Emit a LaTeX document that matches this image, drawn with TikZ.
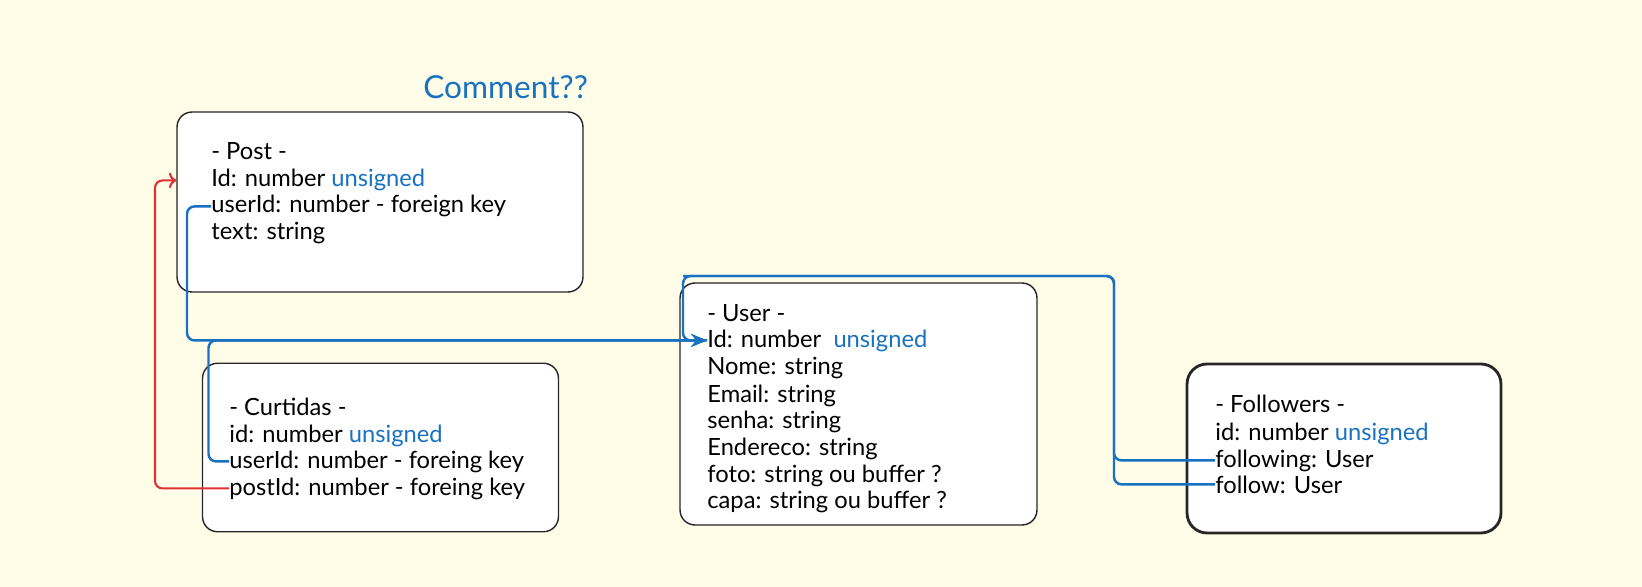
\documentclass[tikz,border=0pt]{standalone}
\usepackage{fontspec}
\setmainfont{Lato}
\usepackage{tikz}
\usetikzlibrary{arrows.meta}

\definecolor{paper}{RGB}{255,253,232}
\definecolor{keyblue}{RGB}{25,113,194}
\definecolor{keyred}{RGB}{224,49,49}

\begin{document}
\begin{tikzpicture}[x=0.02cm,y=-0.02cm,
  tbl/.style={draw=black!85,fill=white,line width=0.8pt,rounded corners=0.3cm},
  row/.style={anchor=base west,inner sep=0pt,font=\fontsize{13.5}{15}\selectfont},
  link/.style={draw=keyblue,line width=1.4pt,rounded corners=0.15cm,-{Stealth[length=3.2mm,width=2.6mm]}},
  plain link/.style={draw=keyblue,line width=1.4pt,rounded corners=0.15cm}]

% Background, also fixes the page size.
\fill[paper] (0,0) rectangle (1642,587);

% Draw the tables.
\node[tbl,minimum width=8.12cm,minimum height=3.6cm] (post) at (380,202) {};
\node[tbl,minimum width=7.12cm,minimum height=3.37cm] (curtidas) at (380.5,447.5) {};
\node[tbl,minimum width=7.14cm,minimum height=4.84cm] (user) at (858.5,404) {};
\node[tbl,line width=1.6pt,rounded corners=0.4cm,minimum width=6.28cm,minimum height=3.38cm] (followers) at (1344,448.5) {};

\node[anchor=base west,inner sep=0pt,text=keyblue,font=\fontsize{18}{20}\selectfont] (comment) at (423,99) {Comment??};

% Post rows.
\node[row] (pt) at (211,160) {- Post -};
\node[row] (pi) at (211,187) {Id: number \textcolor{keyblue}{unsigned}};
\node[row] (pu) at (211,213) {userId: number - foreign key};
\node[row] (px) at (211,240) {text: string};

% Curtidas rows.
\node[row] (ct) at (229,415) {- Curtidas -};
\node[row] (ci) at (229,442) {id: number \textcolor{keyblue}{unsigned}};
\node[row] (cu) at (229,468) {userId: number - foreing key};
\node[row] (cp) at (229,495) {postId: number - foreing key};

% User rows.
\node[row] (ut) at (707,321) {- User -};
\node[row] (ui) at (707,347) {Id: number \ \textcolor{keyblue}{unsigned}};
\node[row] (un) at (707,375) {Nome: string};
\node[row] (ue) at (707,402) {Email: string};
\node[row] (us) at (707,428) {senha: string};
\node[row] (ud) at (707,455) {Endereco: string};
\node[row] (uf) at (707,482) {foto: string ou buffer ?};
\node[row] (uc) at (707,508) {capa: string ou buffer ?};

% Followers rows.
\node[row] (ft) at (1215,412) {- Followers -};
\node[row] (fi) at (1215,440) {id: number \textcolor{keyblue}{unsigned}};
\node[row] (fg) at (1215,467) {following: User};
\node[row] (fw) at (1215,493) {follow: User};

% Foreign keys.
\path[link] (pu.west) -- ++(-24,0) |- (ui.west);
\path[link] (cu.west) -- ++(-20.5,0) |- (ui.west);
\draw[keyred,line width=1.2pt,rounded corners=0.15cm,->] (cp.west) -- ++(-74,0) |- (post.west |- pi.west);

\coordinate (loop) at (683,276);
\path[plain link] (fg.west) -- ++(-101,0) |- (loop) |- (ui.west);
\path[plain link] (fw.west) -- ++(-101,0) |- (loop);

\end{tikzpicture}
\end{document}
